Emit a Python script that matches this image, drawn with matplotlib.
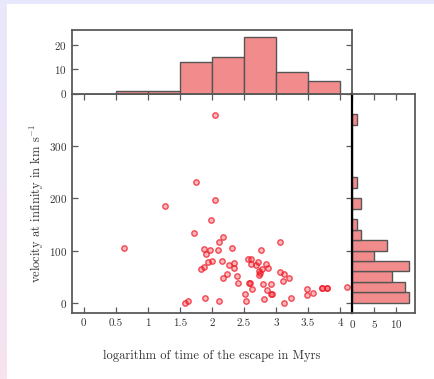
import numpy as np
import matplotlib
matplotlib.use("Agg")
import matplotlib.pyplot as plt
from matplotlib.patches import Rectangle
from matplotlib.ticker import FuncFormatter

plt.rcParams['font.family'] = ['cmr10', 'DejaVu Serif']
plt.rcParams['mathtext.fontset'] = 'cm'
plt.rcParams['axes.formatter.use_mathtext'] = True
plt.rcParams['font.size'] = 8

# escape time (log10 Myr) and velocity at infinity (km/s) of the runaways
log_time = [0.634, 1.273, 1.757, 2.048, 1.981, 1.721, 2.178, 2.106, 3.062, 2.319,
            1.877, 1.970, 2.094, 2.771, 1.908, 2.558, 2.615, 2.163, 1.998, 1.939,
            2.340, 2.719, 2.604, 2.844, 2.272, 2.693, 2.345, 2.880, 2.782, 1.877,
            1.835, 2.740, 3.062, 3.130, 2.750, 2.730, 2.392, 2.241, 2.178, 3.208,
            2.402, 2.574, 2.600, 2.802, 2.922, 3.114, 2.626, 2.854, 3.478, 3.718,
            3.790, 4.102, 3.582, 3.488, 2.510, 2.922, 2.943, 1.892, 2.808, 3.229,
            1.627, 1.575, 2.116, 2.532, 3.125, 2.053, 3.718, 3.790]
v_inf = [104.6, 184.9, 230.8, 197.0, 158.1, 133.3, 126.3, 116.7, 116.9, 105.2,
         102.7, 100.8, 101.9, 101.9, 93.7, 84.2, 83.5, 80.4, 80.4, 77.2,
         76.6, 78.5, 74.0, 74.6, 72.7, 71.4, 67.0, 67.0, 64.4, 67.6,
         64.4, 61.2, 58.7, 55.5, 56.1, 53.5, 51.0, 54.2, 47.9, 47.9,
         37.0, 38.3, 38.3, 35.8, 35.8, 41.5, 26.2, 23.6, 25.6, 28.2,
         28.2, 30.8, 19.2, 14.7, 17.3, 17.3, 16.0, 9.0, 7.6, 8.3,
         3.9, 0.0, 3.2, 3.2, 0.6, 359.5, 28.2, 28.2]

# marginal histograms
time_edges = [0, 0.5, 1.0, 1.5, 2.0, 2.5, 3.0, 3.5, 4.0]
time_counts = [0, 1, 1, 13, 15, 23, 9, 5]
vel_edges = list(range(0, 380, 20))
vel_counts = [13, 12, 9, 13, 5, 8, 2, 1, 0, 2, 0, 1, 0, 0, 0, 0, 0, 1]

W, H = 435, 379
fig = plt.figure(figsize=(W / 100, H / 100), dpi=100)
fig.patch.set_facecolor('white')

# slide background strips
bg = fig.add_axes([0, 0, 7 / W, 1])
grad = np.linspace(0, 1, 100)[:, None]
top_c = np.array([232, 232, 252]) / 255
bot_c = np.array([246, 228, 240]) / 255
bg.imshow(top_c + grad[..., None] * (bot_c - top_c), aspect='auto', extent=[0, 1, 0, 1])
bg.axis('off')
fig.patches.append(Rectangle((0, 1 - 4 / H), 1, 4 / H, transform=fig.transFigure,
                             facecolor=top_c, edgecolor='none', zorder=0))

spine_c = '#5a5a5a'
text_c = '#333333'
bar_c = '#f28c8c'
bar_e = '#555555'

x0, x1 = 71.7, 352.3
y_top, y_mid, y_bot = 30.0, 93.5, 313.3
xr = 414.7

ax = fig.add_axes([x0 / W, 1 - y_bot / H, (x1 - x0) / W, (y_bot - y_mid) / H])
ax_top = fig.add_axes([x0 / W, 1 - y_mid / H, (x1 - x0) / W, (y_mid - y_top) / H])
ax_right = fig.add_axes([x1 / W, 1 - y_bot / H, (xr - x1) / W, (y_bot - y_mid) / H])

for a in (ax, ax_top, ax_right):
    for s in a.spines.values():
        s.set_color(spine_c)
        s.set_linewidth(1.3)
    a.tick_params(direction='in', length=4, width=0.9, color=spine_c,
                  labelcolor=text_c, labelsize=8)

ax.scatter(log_time, v_inf, s=15, facecolor=(1, 0.1, 0.15, 0.32),
           edgecolor=(0.92, 0.1, 0.15, 0.75), linewidth=1.0, zorder=3)
ax.set_xlim(-0.19, 4.19)
ax.set_ylim(-20, 400)
ax.set_xticks(np.arange(0, 4.01, 0.5))
ax.set_yticks([0, 100, 200, 300])
ax.xaxis.set_major_formatter(FuncFormatter(lambda v, p: '%g' % v))
ax.tick_params(top=True, right=True)
ax.set_xlabel('logarithm of time of the escape in Myrs', fontsize=9, color=text_c, labelpad=16)
ax.set_ylabel(r'velocity at infinity in km s$^{-1}$', fontsize=9, color=text_c, labelpad=2)

t_left = np.array(time_edges[:-1])
t_width = np.diff(time_edges)
ax_top.bar(t_left, time_counts, width=t_width, align='edge', color=bar_c,
           edgecolor=bar_e, linewidth=1.0)
ax_top.set_xlim(-0.19, 4.19)
ax_top.set_ylim(0, 26)
ax_top.set_yticks([0, 10, 20])
ax_top.set_xticks([])
ax_top.tick_params(right=True)

v_bot = np.array(vel_edges[:-1])
v_height = np.diff(vel_edges)
ax_right.barh(v_bot, vel_counts, height=v_height, align='edge', color=bar_c,
              edgecolor=bar_e, linewidth=1.0)
ax_right.set_ylim(-20, 400)
ax_right.set_xlim(0, 14.2)
ax_right.set_xticks([0, 5, 10])
ax_right.set_yticks([])
ax_right.tick_params(top=True)
ax_right.spines['left'].set_color('black')
ax_right.spines['left'].set_linewidth(1.6)

fig.savefig('out.png', dpi=100, facecolor='white')
